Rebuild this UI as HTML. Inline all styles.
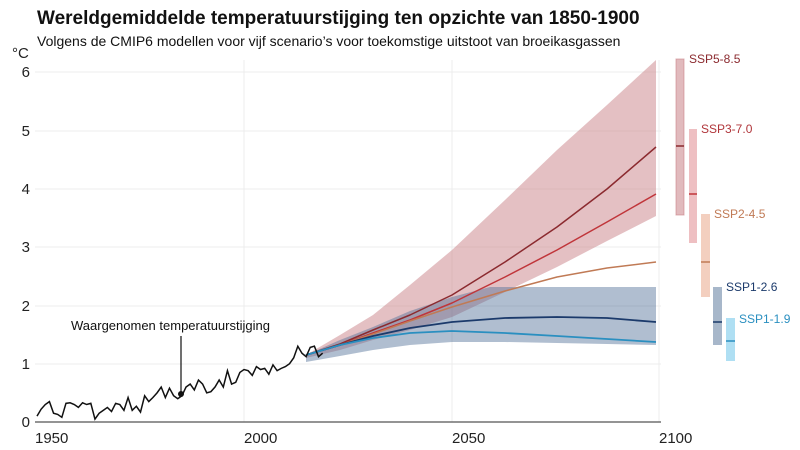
<!DOCTYPE html>
<html><head><meta charset="utf-8"><style>
body{margin:0;background:#fff;}
svg{display:block;font-family:"Liberation Sans",sans-serif;}
</style></head><body>
<svg width="800" height="450" viewBox="0 0 800 450">
<rect width="800" height="450" fill="#fff"/>
<text x="37" y="24" font-size="19" font-weight="bold" fill="#111">Wereldgemiddelde temperatuurstijging ten opzichte van 1850-1900</text>
<text x="37" y="46" font-size="14" fill="#111">Volgens de CMIP6 modellen voor vijf scenario’s voor toekomstige uitstoot van broeikasgassen</text>
<g stroke="#ececec" stroke-width="1">
<line x1="35" x2="661" y1="364" y2="364"/><line x1="35" x2="661" y1="306" y2="306"/>
<line x1="35" x2="661" y1="247" y2="247"/><line x1="35" x2="661" y1="189" y2="189"/>
<line x1="35" x2="661" y1="131" y2="131"/><line x1="35" x2="661" y1="72" y2="72"/>
<line x1="244" x2="244" y1="60" y2="422"/><line x1="452" x2="452" y1="60" y2="422"/><line x1="659" x2="659" y1="60" y2="422"/>
</g>
<g font-size="15" fill="#222" text-anchor="end">
<text x="30" y="427">0</text><text x="30" y="369">1</text><text x="30" y="311">2</text>
<text x="30" y="252">3</text><text x="30" y="194">4</text><text x="30" y="136">5</text><text x="30" y="77">6</text>
</g>
<text x="12" y="58" font-size="15" fill="#222">°C</text>
<line x1="35" x2="661" y1="422" y2="422" stroke="#555" stroke-width="1.2"/>
<g font-size="15" fill="#222">
<text x="35" y="443">1950</text><text x="244" y="443">2000</text><text x="452" y="443">2050</text><text x="659" y="443">2100</text>
</g>
<!-- bands -->
<path d="M306,355 L340,335 373,315 410,285 452,250 505,200 557,150 607,105 656,60 L656,216 607,241 557,267 505,292 452,317 410,330 373,340 340,350 306,358 Z" fill="#c98287" fill-opacity="0.5"/>
<path d="M306,355 L340,340 373,327 410,311 452,297 490,287 656,287 L656,345 607,344 557,343 505,342 452,342 410,345 373,350 340,356 306,362 Z" fill="#4f6f96" fill-opacity="0.45"/>
<!-- medians -->
<g fill="none" stroke-width="1.5" stroke-linejoin="round">
<polyline points="306,355 340,344 373,330 410,315 452,295 505,262 557,227 607,189 656,147" stroke="#8b2a2f"/>
<polyline points="306,355 340,345 373,333 410,320 452,303 505,277 557,250 607,222 656,194" stroke="#c0353a"/>
<polyline points="306,355 340,345 373,334 410,321 452,307 505,291 557,277 607,268 656,262" stroke="#c07a55"/>
<polyline points="306,355 340,345 373,336 410,328 452,322 505,318 557,317 607,318 656,322" stroke="#1b3a6b" stroke-width="1.8"/>
<polyline points="306,355 340,345 373,338 410,333 452,331 505,333 557,336 607,339 656,342" stroke="#2a8fc0" stroke-width="1.8"/>
</g>
<!-- historical -->
<g transform="translate(37,422) scale(4.14,-58.3)">
<polyline fill="none" stroke="#111" stroke-width="1.5" vector-effect="non-scaling-stroke" points="0,0.1 1,0.22 2,0.3 3,0.35 4,0.15 5,0.13 6,0.08 7,0.32 8,0.33 9,0.3 10,0.25 11,0.33 12,0.3 13,0.32 14,0.05 15,0.15 16,0.2 17,0.25 18,0.18 19,0.32 20,0.3 21,0.2 22,0.42 23,0.2 24,0.27 25,0.17 26,0.45 27,0.35 28,0.42 29,0.5 30,0.6 31,0.42 32,0.58 33,0.45 34,0.4 35,0.45 36,0.6 37,0.65 38,0.55 39,0.72 40,0.65 41,0.5 42,0.52 43,0.6 44,0.72 45,0.6 46,0.88 47,0.65 48,0.68 49,0.85 50,0.9 51,0.88 52,0.8 53,0.95 54,0.9 55,0.92 56,0.82 57,0.98 58,0.88 59,0.92 60,0.95 61,1.0 62,1.1 63,1.3 64,1.18 65,1.12 66,1.28 67,1.3 68,1.12 69,1.18"/>
</g>
<line x1="181" x2="181" y1="336" y2="392" stroke="#111" stroke-width="1.2"/>
<circle cx="181" cy="394" r="3" fill="#111"/>
<text x="71" y="330" font-size="13" fill="#111">Waargenomen temperatuurstijging</text>
<!-- boxes -->
<rect x="676" y="59" width="8" height="156" fill="#c98287" fill-opacity="0.55" stroke="#c98287" stroke-opacity="0.6"/>
<line x1="676" x2="684" y1="146" y2="146" stroke="#8b2a2f" stroke-width="1.5"/>
<rect x="689" y="129" width="8" height="114" fill="#e08a90" fill-opacity="0.55"/>
<line x1="689" x2="697" y1="194" y2="194" stroke="#c0353a" stroke-width="1.5"/>
<rect x="701" y="214" width="9" height="83" fill="#eaa88a" fill-opacity="0.55"/>
<line x1="701" x2="710" y1="262" y2="262" stroke="#c07a55" stroke-width="1.5"/>
<rect x="713" y="287" width="9" height="58" fill="#4f6f96" fill-opacity="0.5"/>
<line x1="713" x2="722" y1="322" y2="322" stroke="#1b3a6b" stroke-width="1.5"/>
<rect x="726" y="318" width="9" height="43" fill="#5fc0e8" fill-opacity="0.5"/>
<line x1="726" x2="735" y1="341" y2="341" stroke="#2a8fc0" stroke-width="1.5"/>
<g font-size="12">
<text x="689" y="63" fill="#8b2a2f">SSP5-8.5</text>
<text x="701" y="133" fill="#b0353a">SSP3-7.0</text>
<text x="714" y="218" fill="#c07a55">SSP2-4.5</text>
<text x="726" y="291" fill="#1b3a6b">SSP1-2.6</text>
<text x="739" y="323" fill="#2a8fc0">SSP1-1.9</text>
</g>
</svg>
</body></html>
